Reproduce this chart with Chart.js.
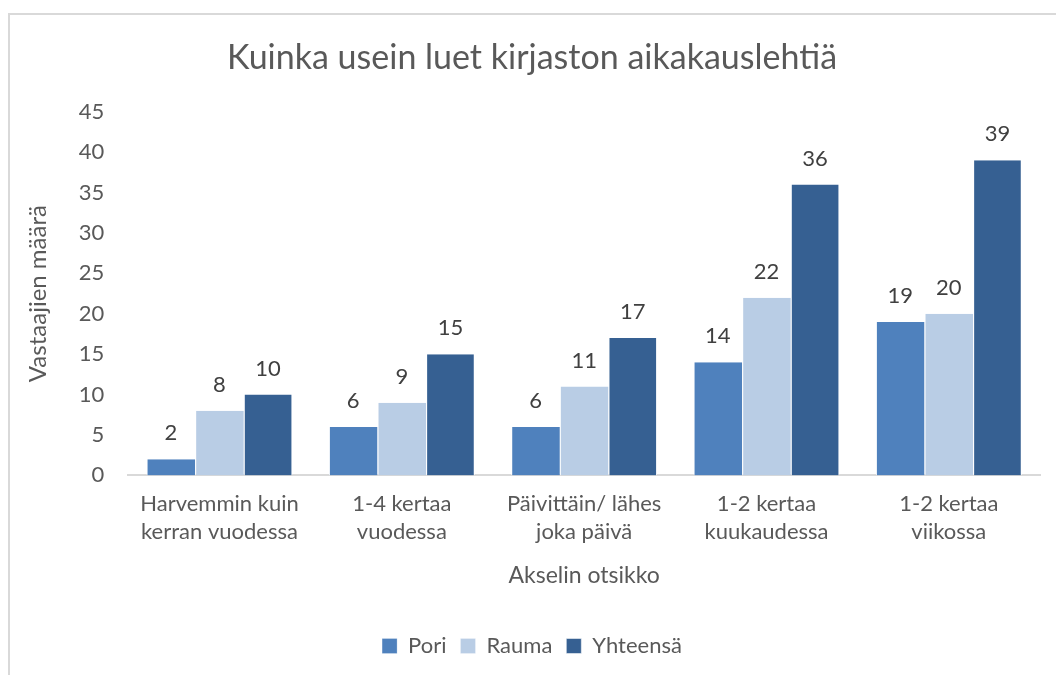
<!DOCTYPE html>
<html>
<head>
<meta charset="utf-8">
<script src="https://cdn.jsdelivr.net/npm/chart.js@4"></script>
<style>
 body { margin: 0; background: #fff; }
 #wrap { position: relative; width: 1056px; height: 675px; overflow: hidden; }
 #frame { position: absolute; left: 8px; top: 13px; width: 1100px; height: 700px;
  border-left: 2px solid #d9d9d9; border-top: 2px solid #d9d9d9; }
 canvas { position: absolute; left: 0; top: 0; }
</style>
</head>
<body>
<div id="wrap">
 <div id="frame"></div>
 <canvas id="chart1" width="1056" height="675"></canvas>
</div>
<script>
// chart data
var categories = [
 ['Harvemmin kuin', 'kerran vuodessa'],
 ['1-4 kertaa', 'vuodessa'],
 ['Päivittäin/ lähes', 'joka päivä'],
 ['1-2 kertaa', 'kuukaudessa'],
 ['1-2 kertaa', 'viikossa']
];
var pori = [2, 6, 6, 14, 19];
var rauma = [8, 9, 11, 22, 20];
var yhteensa = [10, 15, 17, 36, 39];
var yTicks = [0, 5, 10, 15, 20, 25, 30, 35, 40, 45];

var FONT = 'Lato';
var TXT = '#595959';

// simple value labels above the bars
var barLabels = {
 id: 'barLabels',
 afterDatasetsDraw: function (chart) {
  var ctx = chart.ctx;
  ctx.save();
  ctx.font = '22px ' + FONT;
  ctx.fillStyle = '#404040';
  ctx.textAlign = 'center';
  ctx.textBaseline = 'middle';
  chart.data.datasets.forEach(function (ds, i) {
   chart.getDatasetMeta(i).data.forEach(function (bar, j) {
    ctx.fillText(ds.data[j], bar.x, bar.y - 26);
   });
  });
  ctx.restore();
 }
};

var ctx1 = document.getElementById('chart1').getContext('2d');
var chart1 = new Chart(ctx1, {
 type: 'bar',
 data: {
  labels: categories,
  datasets: [{
   label: 'Pori',
   data: pori,
   backgroundColor: '#4f81bd',
   borderColor: '#ffffff',
   borderWidth: { left: 1, right: 0, top: 0, bottom: 0 }
  }, {
   label: 'Rauma',
   data: rauma,
   backgroundColor: '#b9cde5',
   borderColor: '#ffffff',
   borderWidth: { left: 1, right: 0, top: 0, bottom: 0 }
  }, {
   label: 'Yhteensä',
   data: yhteensa,
   backgroundColor: '#366092',
   borderColor: '#ffffff',
   borderWidth: { left: 1, right: 1, top: 0, bottom: 0 }
  }]
 },
 plugins: [barLabels],
 options: {
  responsive: false,
  animation: false,
  layout: { padding: { left: 24, right: 16, top: 0, bottom: 8 } },
  datasets: { bar: { categoryPercentage: 0.8, barPercentage: 1.0 } },
  plugins: {
   title: {
    display: true,
    text: 'Kuinka usein luet kirjaston aikakauslehtiä',
    color: TXT,
    font: { family: FONT, size: 34, weight: 'normal' },
    padding: { top: 38, bottom: 33 }
   },
   legend: {
    position: 'bottom',
    labels: {
     color: TXT,
     font: { family: FONT, size: 22 },
     boxWidth: 15,
     boxHeight: 15,
     padding: 14
    }
   },
   tooltip: { enabled: false }
  },
  scales: {
   x: {
    grid: { display: false },
    border: { display: true, color: '#d9d9d9', width: 2 },
    ticks: { color: TXT, font: { family: FONT, size: 22, lineHeight: 1.25 }, padding: 7, maxRotation: 0 },
    title: { display: true, text: 'Akselin otsikko', color: TXT, font: { family: FONT, size: 23 }, padding: { top: 9, bottom: 32 } }
   },
   y: {
    min: 0,
    max: 45,
    grid: { display: false },
    border: { display: false },
    afterBuildTicks: function (scale) {
     scale.ticks = yTicks.map(function (v) { return { value: v }; });
    },
    ticks: { color: TXT, font: { family: FONT, size: 22 }, padding: 16 },
    title: { display: true, text: 'Vastaajien määrä', color: TXT, font: { family: FONT, size: 24 }, padding: { top: 0, bottom: 10 } }
   }
  }
 }
});
</script>
</body>
</html>
